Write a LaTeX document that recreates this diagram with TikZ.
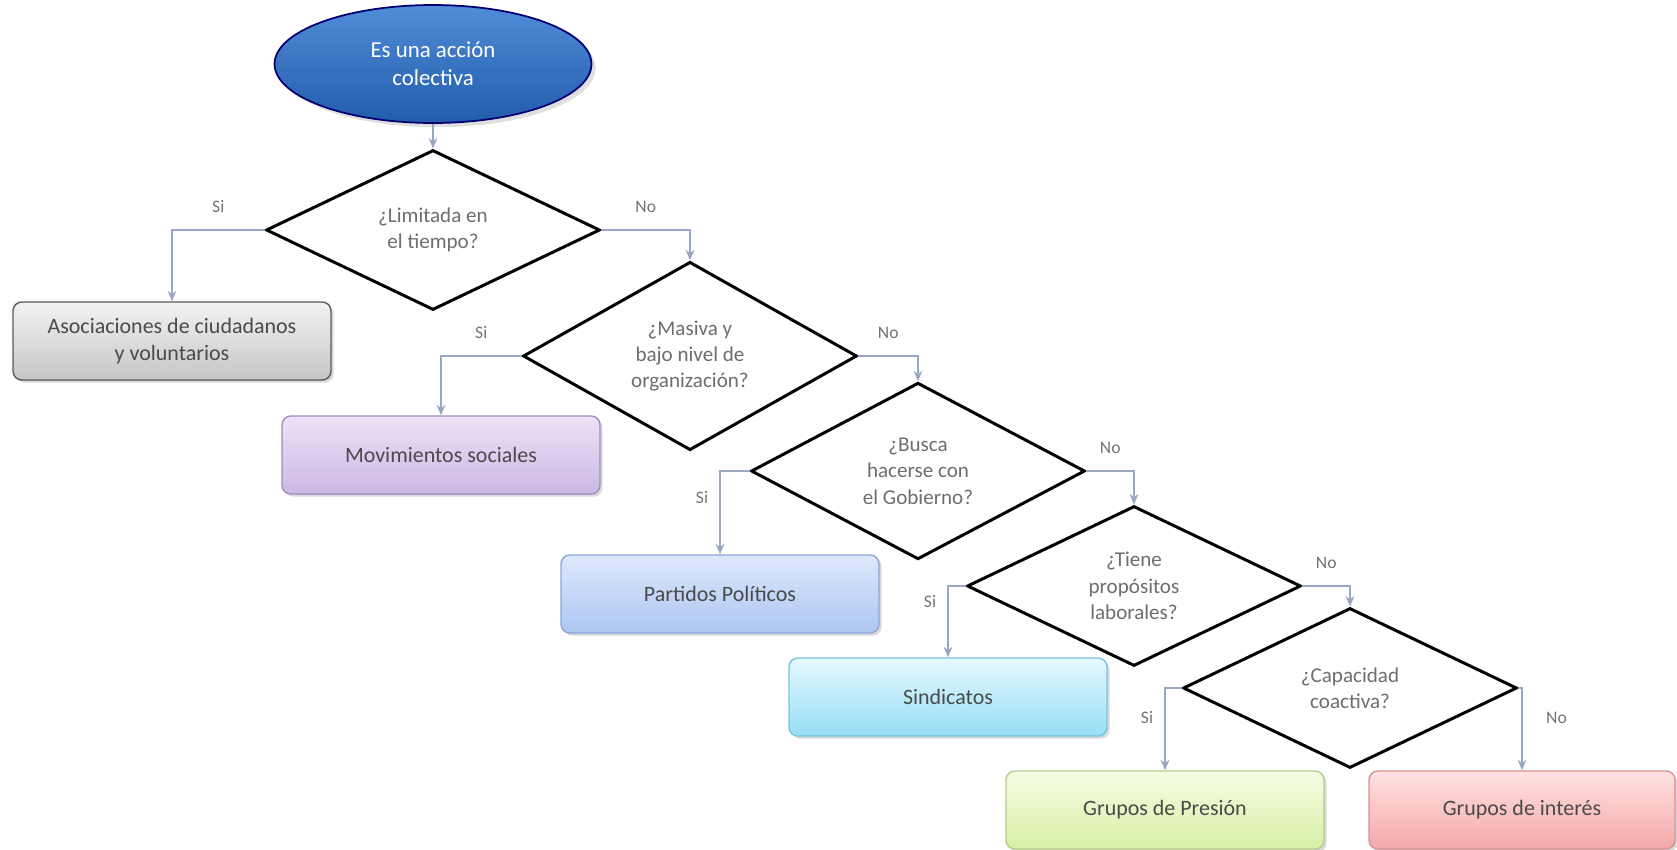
\documentclass[tikz,border=0pt]{standalone}
\usepackage{fontspec}
\setmainfont{Carlito}
\usetikzlibrary{ shapes.geometric, % For the ellipse and the diamonds
                 arrows.meta,
                 positioning,
                 shadows,
               }
\definecolor{linkcol}{HTML}{9AA8C8}
\definecolor{txtcol}{HTML}{4A4A4A}
\tikzstyle{start} = [ellipse, draw=blue!45!black, line width=1pt, top color={rgb,255:red,80;green,140;blue,215}, bottom color={rgb,255:red,34;green,92;blue,172}, minimum width=6.34cm, minimum height=2.36cm, text=white, align=center, font=\fontsize{13}{16}\selectfont, drop shadow={opacity=0.25}]
\tikzstyle{question} = [diamond, draw=black, line width=1.7pt, fill=white, minimum width=6.68cm, minimum height=3.2cm, inner sep=0pt, align=center, text=txtcol!80, font=\fontsize{12}{15}\selectfont]
\tikzstyle{outcome} = [rectangle, rounded corners=5pt, line width=0.8pt, minimum width=6.36cm, minimum height=1.56cm, align=center, text=txtcol, font=\fontsize{12.5}{15.5}\selectfont, drop shadow={opacity=0.3, shadow xshift=1.5pt, shadow yshift=-1.5pt}]
\tikzstyle{res_grey} = [outcome, draw=gray!70!black, top color=gray!10, bottom color=gray!45]
\tikzstyle{res_lilac} = [outcome, draw={rgb,255:red,160;green,140;blue,190}, top color={rgb,255:red,236;green,226;blue,246}, bottom color={rgb,255:red,204;green,184;blue,228}]
\tikzstyle{res_blue} = [outcome, draw={rgb,255:red,140;green,165;blue,215}, top color={rgb,255:red,222;green,232;blue,252}, bottom color={rgb,255:red,172;green,198;blue,242}]
\tikzstyle{res_cyan} = [outcome, draw={rgb,255:red,120;green,196;blue,222}, top color={rgb,255:red,230;green,249;blue,255}, bottom color={rgb,255:red,150;green,222;blue,246}]
\tikzstyle{res_green} = [outcome, draw={rgb,255:red,180;green,205;blue,140}, top color={rgb,255:red,246;green,252;blue,226}, bottom color={rgb,255:red,214;green,240;blue,166}]
\tikzstyle{res_pink} = [outcome, draw={rgb,255:red,215;green,145;blue,145}, top color={rgb,255:red,255;green,226;blue,226}, bottom color={rgb,255:red,244;green,168;blue,168}]
\tikzstyle{link} = [draw=linkcol, line width=0.9pt, -{Stealth[length=6pt, width=5pt]}]
\tikzstyle{answer} = [font=\fontsize{10}{12}\selectfont, text=gray!90!black]

\begin{document}
\begin{tikzpicture}[x=0.02cm, y=-0.02cm]
  \useasboundingbox (0, 0) rectangle (1677, 849);

  \node (e) [start] at (433, 64) {Es una acción\\colectiva};

  \node (d1) [question] at (433, 230) {¿Limitada en\\el tiempo?};
  \node (d2) [question] at (690, 356) {¿Masiva y\\bajo nivel de\\organización?};
  \node (d3) [question] at (918, 471) {¿Busca\\hacerse con\\el Gobierno?};
  \node (d4) [question] at (1134, 586) {¿Tiene\\propósitos\\laborales?};
  \node (d5) [question] at (1350, 688) {¿Capacidad\\coactiva?};

  \node (b1) [res_grey] at (172, 341) {Asociaciones de ciudadanos\\y voluntarios};
  \node (b2) [res_lilac] at (441, 455) {Movimientos sociales};
  \node (b3) [res_blue] at (720, 594) {Partidos Políticos};
  \node (b4) [res_cyan] at (948, 697) {Sindicatos};
  \node (b5) [res_green] at (1165, 810) {Grupos de Presión};
  \node (b6) [res_pink, minimum width=6.12cm] at (1522, 810) {Grupos de interés};

  \draw [link] (e) -- (d1);
  \draw [link] (d1.west) -| node [answer, above=6pt, pos=0.25] {Si} (b1.north);
  \draw [link] (d1.east) -| node [answer, above=6pt, pos=0.25] {No} (d2.north);
  \draw [link] (d2.west) -| node [answer, above=6pt, pos=0.25] {Si} (b2.north);
  \draw [link] (d2.east) -| node [answer, above=6pt, pos=0.25] {No} (d3.north);
  \draw [link] (d3.west) -| node [answer, left=3pt, pos=0.66] {Si} (b3.north);
  \draw [link] (d3.east) -| node [answer, above=6pt, pos=0.25] {No} (d4.north);
  \draw [link] (d4.west) -| node [answer, left=3pt, pos=0.61] {Si} (b4.north);
  \draw [link] (d4.east) -| node [answer, above=6pt, pos=0.25] {No} (d5.north);
  \draw [link] (d5.west) -| node [answer, left=3pt, pos=0.68] {Si} (b5.north);
  \draw [link] (d5.east) -| node [answer, right=10pt, pos=0.68] {No} (b6.north);
\end{tikzpicture}
\end{document}
